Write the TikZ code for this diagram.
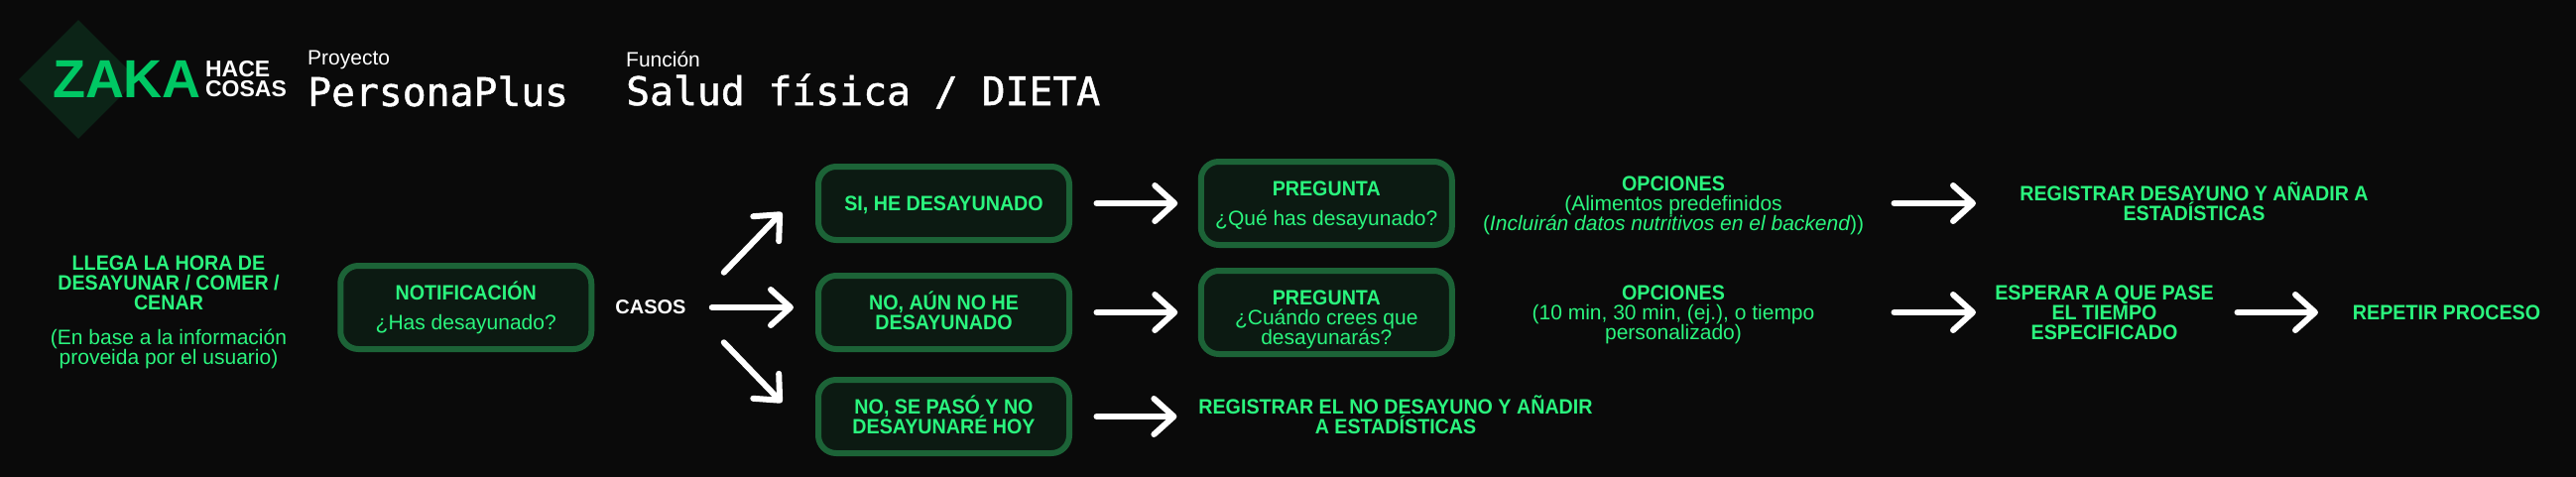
\documentclass[tikz,border=0pt]{standalone}
\usepackage{fontspec}
\setmainfont{Liberation Sans}[BoldFeatures={FakeStretch=0.937}]
\newfontfamily\logofont{Liberation Sans}
\newfontfamily\monofont{DejaVu Sans Mono}[FakeBold=1.2]
\usetikzlibrary{arrows.meta,positioning,shapes.geometric}

\definecolor{fondo}{HTML}{0A0A0A}
\definecolor{verde}{HTML}{2AF57E}
\definecolor{borde}{HTML}{1C6337}
\definecolor{relleno}{HTML}{0C1A12}
\definecolor{marca}{HTML}{00C864}
\definecolor{rombo}{HTML}{0C2417}

\newcommand{\fino}[1]{{\fontsize{21}{20}\selectfont\mdseries #1}}
\newcommand{\alto}{\rule{0pt}{19pt}}
\newcommand{\bajo}{\rule[-5pt]{0pt}{5pt}}
\setlength{\lineskiplimit}{-20pt}

\tikzset{
  caja/.style={draw=borde, fill=relleno, line width=6pt, rounded corners=18pt, outer sep=0pt,
    inner sep=0pt, minimum width=253pt, minimum height=74pt, align=center, text=verde,
    font=\fontsize{21}{20}\selectfont\bfseries},
  texto/.style={inner sep=0pt, outer sep=0pt, align=center, text=verde, font=\fontsize{21}{20}\selectfont\bfseries},
  titulo/.style={inner sep=0pt, anchor=west, text=white, font=\fontsize{39.7}{40}\monofont},
  sobre/.style={inner sep=0pt, anchor=west, text=white, font=\fontsize{21}{21}\selectfont},
  flecha/.style={draw=white, line width=6pt, line cap=round,
    -{Straight Barb[length=20pt, width=36pt, round]}},
}

\begin{document}
\begin{tikzpicture}[x=1pt,y=-1pt]
    \useasboundingbox (0,0) rectangle (2597,480);
    \fill[fondo] (-5,-5) rectangle (2602,485);

    % cabecera
    \node[diamond, fill=rombo, inner sep=0pt, minimum width=120pt, minimum height=120pt] (logo) at (79,80) {};
    \node[inner sep=0pt, text=marca, font=\fontsize{54}{53}\logofont\bfseries] (zaka) at (128,80) {ZAKA};
    \node[inner sep=0pt, text=white, align=left, font=\fontsize{23}{20}\logofont\bfseries] (hace) at (248,80) {HACE\\COSAS};
    \node[sobre] (proy) at (310,60) {Proyecto};
    \node[titulo] (persona) at (310,92) {PersonaPlus};
    \node[sobre] (func) at (631,60) {Función};
    \node[titulo] (salud) at (631,92) {Salud física / DIETA};

    % inicio
    \node[texto] (llega) at (170,312.5) {\alto LLEGA LA HORA DE\\DESAYUNAR / COMER /\\CENAR\\[15pt]\fino{(En base a la información}\\\fino{proveida por el usuario)}\bajo};
    \node[caja, minimum height=84pt] (notif) at (469.75,310) {\alto NOTIFICACIÓN\\[10pt]\fino{¿Has desayunado?}\bajo};
    \node[inner sep=4pt, text=white, font=\fontsize{20}{20}\logofont\bfseries] (casos) at (656,310) {\rule{0pt}{17pt}CASOS\bajo};

    % casos
    \node[caja] (si) at (951.5,205) {\alto SI, HE DESAYUNADO\bajo};
    \node[caja] (noaun) at (951.5,315) {\alto NO, AÚN NO HE\\DESAYUNADO\bajo};
    \node[caja] (nose) at (951.5,420) {\alto NO, SE PASÓ Y NO\\DESAYUNARÉ HOY\bajo};

    % preguntas
    \node[caja, minimum height=84pt] (preg1) at (1337.25,205) {\alto PREGUNTA\\[10pt]\fino{¿Qué has desayunado?}\bajo};
    \node[caja, minimum height=84pt] (preg2) at (1337.25,315) {\rule{0pt}{29pt}PREGUNTA\\\fino{¿Cuándo crees que}\\\fino{desayunarás?}\bajo};
    \node[texto, minimum width=396pt] (regno) at (1407,420) {\alto REGISTRAR EL NO DESAYUNO Y AÑADIR\\A ESTADÍSTICAS\bajo};

    % opciones
    \node[texto, minimum width=389pt] (opc1) at (1687,205) {\alto OPCIONES\\\fino{(Alimentos predefinidos}\\\fino{(\itshape Incluirán datos nutritivos en el backend\upshape))}\bajo};
    \node[texto, minimum width=389pt] (opc2) at (1687,315) {\alto OPCIONES\\\fino{(10 min, 30 min, (ej.), o tiempo}\\\fino{personalizado)}\bajo};
    \node[texto, minimum width=352pt] (regdes) at (2212,205) {\alto REGISTRAR DESAYUNO Y AÑADIR A\\ESTADÍSTICAS\bajo};
    \node[texto, minimum width=230pt] (espera) at (2121.5,315) {\alto ESPERAR A QUE PASE\\EL TIEMPO\\ESPECIFICADO\bajo};
    \node[texto, minimum width=200pt] (repite) at (2466.5,315) {\alto REPETIR PROCESO\bajo};

    \draw[flecha, shorten <=49pt, shorten >=53pt] (casos.east) -- ([yshift=-8pt]si.north west);
    \draw[flecha, shorten <=22pt, shorten >=25pt] (casos.east) -- (casos.east -| noaun.west);
    \draw[flecha, shorten <=49pt, shorten >=53pt] (casos.east) -- ([yshift=13pt]nose.south west);

    \draw[flecha, shorten <=27.5pt, shorten >=23.5pt] (si) -- (preg1);
    \draw[flecha, shorten <=27.5pt, shorten >=23.5pt] (noaun) -- (preg2);
    \draw[flecha, shorten <=27.5pt, shorten >=22pt] (nose) -- (regno);
    \draw[flecha, shorten <=28pt, shorten >=44pt] (opc1) -- (regdes);
    \draw[flecha, shorten <=28pt, shorten >=14.5pt] (opc2) -- (espera);
    \draw[flecha, shorten <=19pt, shorten >=29.5pt] (espera) -- (repite);
\end{tikzpicture}
\end{document}
